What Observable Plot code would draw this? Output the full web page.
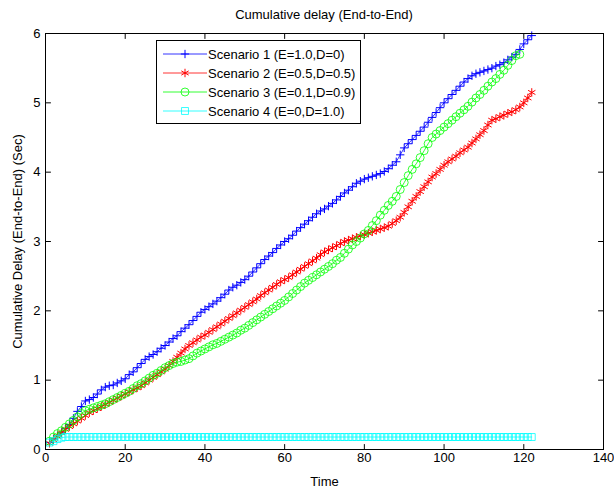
<!DOCTYPE html>
<html><head><meta charset="utf-8">
<script src="https://cdn.jsdelivr.net/npm/d3@7"></script>
<script src="https://cdn.jsdelivr.net/npm/@observablehq/plot@0.6"></script>
<style>
body{margin:0;background:#fff;font-family:"Liberation Sans",Arial,sans-serif;}
#wrap{position:relative;width:614px;height:489px;background:#fff;}
#title{box-sizing:border-box;height:24px;width:614px;padding-left:45px;padding-right:11px;padding-top:3px;line-height:24px;font-size:13px;text-align:center;color:#000;}
#legend{position:absolute;left:156px;top:40px;}
</style></head><body>
<div id="wrap"><div id="title">Cumulative delay (End-to-End)</div><div id="chart"></div><div id="legend"></div></div>
<script>
const xTicks = [0, 20, 40, 60, 80, 100, 120, 140];
const yTicks = [0, 1, 2, 3, 4, 5, 6];
const seriesNames = ["Scenario 1 (E=1.0,D=0)", "Scenario 2 (E=0.5,D=0.5)", "Scenario 3 (E=0.1,D=0.9)", "Scenario 4 (E=0,D=1.0)"];
const seriesColors = ["#0000ff", "#ff0000", "#00ff00", "#00ffff"];
const seriesSymbols = ["plus", "asterisk", "circle", "square"];

const time = [1,2,3,4,5,6,7,8,9,10,11,12,13,14,15,16,17,18,19,20,21,22,23,24,25,26,27,28,29,30,31,32,33,34,35,36,37,38,39,40,41,42,43,44,45,46,47,48,49,50,51,52,53,54,55,56,57,58,59,60,61,62,63,64,65,66,67,68,69,70,71,72,73,74,75,76,77,78,79,80,81,82,83,84,85,86,87,88,89,90,91,92,93,94,95,96,97,98,99,100,101,102,103,104,105,106,107,108,109,110,111,112,113,114,115,116,117,118,119,120,121,122];

const scenario1 = [0.10,0.15,0.20,0.24,0.30,0.36,0.45,0.55,0.62,0.70,0.72,0.75,0.80,0.86,0.90,0.92,0.93,0.96,0.99,1.02,1.08,1.12,1.18,1.24,1.30,1.34,1.37,1.41,1.46,1.50,1.55,1.60,1.64,1.70,1.75,1.80,1.86,1.92,1.98,2.02,2.06,2.10,2.14,2.19,2.24,2.30,2.34,2.37,2.41,2.45,2.50,2.56,2.62,2.68,2.74,2.79,2.84,2.90,2.95,3.00,3.04,3.09,3.15,3.20,3.25,3.30,3.35,3.40,3.44,3.47,3.51,3.55,3.60,3.65,3.70,3.74,3.79,3.84,3.87,3.90,3.92,3.94,3.96,3.98,4.01,4.05,4.10,4.15,4.25,4.35,4.41,4.47,4.53,4.59,4.65,4.72,4.79,4.86,4.93,5.00,5.06,5.12,5.18,5.24,5.30,5.35,5.39,5.42,5.44,5.46,5.48,5.50,5.53,5.55,5.58,5.62,5.66,5.70,5.77,5.85,5.91,5.97];

const scenario2 = [0.09,0.14,0.19,0.24,0.29,0.33,0.37,0.41,0.45,0.49,0.53,0.56,0.59,0.62,0.65,0.68,0.71,0.74,0.77,0.80,0.83,0.86,0.89,0.92,0.96,1.00,1.04,1.08,1.12,1.16,1.21,1.27,1.33,1.39,1.45,1.50,1.54,1.58,1.62,1.65,1.69,1.73,1.77,1.81,1.85,1.89,1.93,1.97,2.01,2.05,2.09,2.13,2.17,2.22,2.26,2.30,2.34,2.38,2.42,2.45,2.48,2.52,2.56,2.60,2.64,2.68,2.72,2.76,2.81,2.85,2.88,2.91,2.94,2.97,3.00,3.02,3.04,3.06,3.08,3.10,3.12,3.14,3.16,3.18,3.20,3.22,3.26,3.30,3.35,3.42,3.50,3.58,3.65,3.72,3.79,3.86,3.93,3.98,4.04,4.10,4.15,4.19,4.23,4.28,4.32,4.36,4.42,4.48,4.54,4.60,4.68,4.75,4.77,4.80,4.82,4.85,4.87,4.90,4.94,5.00,5.07,5.15];

const scenario3 = [0.12,0.18,0.23,0.27,0.32,0.37,0.42,0.47,0.52,0.56,0.58,0.60,0.62,0.64,0.66,0.69,0.72,0.75,0.78,0.81,0.84,0.88,0.92,0.95,0.99,1.03,1.07,1.10,1.14,1.18,1.21,1.24,1.26,1.27,1.29,1.31,1.35,1.39,1.42,1.45,1.48,1.51,1.53,1.56,1.59,1.62,1.65,1.68,1.72,1.75,1.79,1.83,1.87,1.91,1.95,1.99,2.03,2.07,2.11,2.15,2.20,2.25,2.30,2.35,2.40,2.44,2.48,2.52,2.56,2.60,2.64,2.68,2.73,2.77,2.83,2.89,2.95,3.00,3.05,3.11,3.16,3.23,3.30,3.38,3.45,3.52,3.58,3.65,3.75,3.85,3.95,4.04,4.12,4.21,4.31,4.41,4.50,4.55,4.60,4.65,4.70,4.75,4.80,4.85,4.90,4.95,5.01,5.07,5.12,5.18,5.24,5.30,5.35,5.41,5.47,5.54,5.61,5.68,5.70];

const scenario4 = [0.10,0.12,0.15,0.17,0.18,0.18,0.18,0.18,0.18,0.18,0.18,0.18,0.18,0.18,0.18,0.18,0.18,0.18,0.18,0.18,0.18,0.18,0.18,0.18,0.18,0.18,0.18,0.18,0.18,0.18,0.18,0.18,0.18,0.18,0.18,0.18,0.18,0.18,0.18,0.18,0.18,0.18,0.18,0.18,0.18,0.18,0.18,0.18,0.18,0.18,0.18,0.18,0.18,0.18,0.18,0.18,0.18,0.18,0.18,0.18,0.18,0.18,0.18,0.18,0.18,0.18,0.18,0.18,0.18,0.18,0.18,0.18,0.18,0.18,0.18,0.18,0.18,0.18,0.18,0.18,0.18,0.18,0.18,0.18,0.18,0.18,0.18,0.18,0.18,0.18,0.18,0.18,0.18,0.18,0.18,0.18,0.18,0.18,0.18,0.18,0.18,0.18,0.18,0.18,0.18,0.18,0.18,0.18,0.18,0.18,0.18,0.18,0.18,0.18,0.18,0.18,0.18,0.18,0.18,0.18,0.18,0.18];

const allValues = [scenario1, scenario2, scenario3, scenario4];
const symbolSize = {plus: 2.8, asterisk: 4, circle: 4, square: 3.9};
const symbolStroke = {plus: 1, asterisk: 1, circle: 0.8, square: 0.8};

const seriesMarks = [];
allValues.forEach((vals, k) => {
  const data = vals.map((v, i) => ({t: time[i], v}));
  const sym = seriesSymbols[k];
  seriesMarks.push(Plot.line(data, {x: "t", y: "v", stroke: seriesColors[k], strokeWidth: 0.8}));
  seriesMarks.push(Plot.dot(data, {x: "t", y: "v", symbol: sym, r: symbolSize[sym], stroke: seriesColors[k], strokeWidth: symbolStroke[sym], fill: "none"}));
});

// inward tick marks (MATLAB box style)
const tickShape = {draw(context, l) { context.moveTo(0, 0); context.lineTo(0, -l); }};
const tickOpts = {length: 5, anchor: "start", shape: tickShape, stroke: "#000", strokeWidth: 1};
const tickMarks = [
  Plot.vector(xTicks, {x: d => d, frameAnchor: "bottom", rotate: 0, ...tickOpts}),
  Plot.vector(xTicks, {x: d => d, frameAnchor: "top", rotate: 180, ...tickOpts}),
  Plot.vector(yTicks, {y: d => d, frameAnchor: "left", rotate: 90, ...tickOpts}),
  Plot.vector(yTicks, {y: d => d, frameAnchor: "right", rotate: -90, ...tickOpts})
];

const chart = Plot.plot({
  width: 614, height: 465,
  marginTop: 9, marginBottom: 40, marginLeft: 45, marginRight: 11,
  style: {fontFamily: "'Liberation Sans', Arial, sans-serif", fontSize: "13px", color: "#000", background: "#fff", overflow: "visible"},
  x: {domain: [0, 140]},
  y: {domain: [0, 6]},
  marks: [
    ...seriesMarks,
    Plot.frame({stroke: "#000", strokeWidth: 1}),
    ...tickMarks,
    Plot.axisX(xTicks, {anchor: "bottom", tickSize: 0, tickPadding: 3, tickFormat: d3.format("d"), label: "Time", labelAnchor: "center", labelOffset: 36, labelArrow: "none"}),
    Plot.axisY(yTicks, {anchor: "left", tickSize: 0, tickPadding: 5, tickFormat: d3.format("d"), label: "Cumulative Delay (End-to-End) (Sec)", labelAnchor: "center", labelOffset: 33, labelArrow: "none"})
  ]
});
document.getElementById("chart").appendChild(chart);

// legend
const lw = 204, lh = 83, rowH = 19, row0 = 14;
const svg = d3.select("#legend").append("svg").attr("width", lw + 2).attr("height", lh + 2)
  .style("font-family", "'Liberation Sans', Arial, sans-serif").style("font-size", "13px");
svg.append("rect").attr("x", 0.5).attr("y", 0.5).attr("width", lw).attr("height", lh).attr("fill", "#fff").attr("stroke", "#000");
const d3sym = {plus: d3.symbolPlus, asterisk: d3.symbolAsterisk, circle: d3.symbolCircle, square: d3.symbolSquare};
seriesNames.forEach((name, k) => {
  const y = row0 + k * rowH;
  const g = svg.append("g");
  g.append("line").attr("x1", 7).attr("x2", 51).attr("y1", y).attr("y2", y).attr("stroke", seriesColors[k]).attr("stroke-width", 0.8);
  const sym = seriesSymbols[k];
  const r = symbolSize[sym];
  g.append("path").attr("transform", `translate(29,${y})`).attr("d", d3.symbol(d3sym[sym], Math.PI * r * r)())
    .attr("fill", "none").attr("stroke", seriesColors[k]).attr("stroke-width", symbolStroke[sym]);
  g.append("text").attr("x", 52).attr("y", y).attr("dy", "0.35em").attr("fill", "#000").text(name);
});
</script>
</body></html>
